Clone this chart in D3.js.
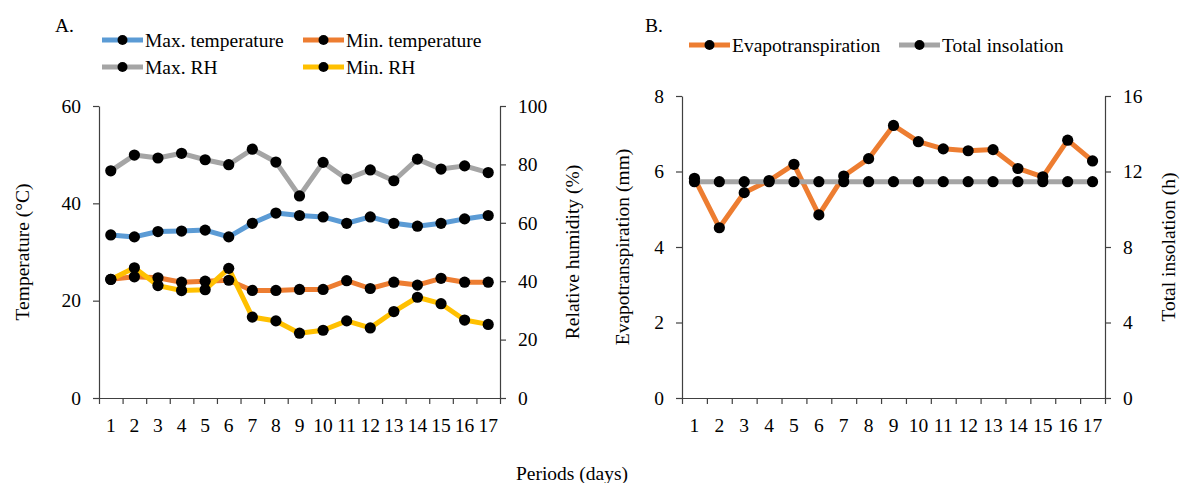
<!DOCTYPE html>
<html><head><meta charset="utf-8">
<script src="https://cdn.jsdelivr.net/npm/d3@7/dist/d3.min.js"></script>
<style>
body{margin:0;background:#fff;}
</style></head>
<body>
<svg id="chart" width="1181" height="483"></svg>
<script>
const periods = d3.range(1, 18).map(String);
const maxTemp = [33.5,33.1,34.2,34.3,34.5,33.1,35.9,38.0,37.5,37.2,35.9,37.2,35.9,35.3,35.9,36.8,37.5];
const minTemp = [24.4,24.9,24.7,23.8,24.0,24.2,22.1,22.1,22.3,22.3,24.1,22.5,23.8,23.2,24.6,23.8,23.8];
const maxRH = [77.8,83.2,82.2,83.8,81.6,79.9,85.2,80.8,69.2,80.7,75.0,78.1,74.4,81.8,78.4,79.5,77.2];
const minRH = [40.6,44.6,38.5,36.8,37.1,44.4,27.7,26.4,22.2,23.2,26.4,24.0,29.6,34.5,32.3,26.7,25.2];
const evapo = [5.82,4.51,5.44,5.76,6.19,4.85,5.88,6.34,7.22,6.79,6.60,6.55,6.58,6.08,5.86,6.83,6.28];
const insolation = [11.46,11.46,11.46,11.46,11.46,11.46,11.46,11.46,11.46,11.46,11.46,11.46,11.46,11.46,11.46,11.46,11.46];
const tempTicks = [0,20,40,60];
const rhTicks = [0,20,40,60,80,100];
const etTicks = [0,2,4,6,8];
const insTicks = [0,4,8,12,16];

const C = {blue:"#5B9BD5", orange:"#ED7D31", gray:"#A5A5A5", yellow:"#FFC000", axis:"#404040"};
const FONT = "'Liberation Serif', 'Times New Roman', 'DejaVu Serif', serif";
const FS = "19.5px";
const svg = d3.select("#chart");
function styleText(sel){ return sel.attr("font-family", null).style("font-family", FONT).style("font-size", FS).style("fill", "#000"); }

function panel(cfg){
  const g = svg.append("g");
  const xb = d3.scaleBand().domain(periods).range([cfg.x0, cfg.x1]).padding(0);
  const xl = d3.scaleLinear().domain([0, periods.length]).range([cfg.x0, cfg.x1]);
  const yL = d3.scaleLinear().domain(cfg.lDomain).range([cfg.yb, cfg.yt]);
  const yR = d3.scaleLinear().domain(cfg.rDomain).range([cfg.yb, cfg.yt]);

  const ax = g.append("g").attr("transform", `translate(0,${cfg.yb})`)
    .call(d3.axisBottom(xl).tickValues(d3.range(periods.length+1)).tickFormat("").tickSize(6).tickSizeOuter(0));
  const axl = g.append("g").attr("transform", `translate(0,${cfg.yb})`)
    .call(d3.axisBottom(xb).tickSize(0).tickPadding(20));
  axl.select(".domain").remove();
  const al = g.append("g").attr("transform", `translate(${cfg.x0},0)`)
    .call(d3.axisLeft(yL).tickValues(cfg.lTicks).tickSize(6).tickSizeOuter(0).tickPadding(12));
  const ar = g.append("g").attr("transform", `translate(${cfg.x1},0)`)
    .call(d3.axisRight(yR).tickValues(cfg.rTicks).tickSize(6).tickSizeOuter(0).tickPadding(12));
  [ax, axl, al, ar].forEach(a => {
    a.attr("font-family", null);
    a.selectAll("path,line").attr("stroke", C.axis).attr("stroke-width", 1.2);
    styleText(a.selectAll("text"));
  });

  styleText(g.append("text").attr("transform", `translate(${cfg.lTitleX},${(cfg.yt+cfg.yb)/2}) rotate(-90)`)
    .attr("text-anchor","middle").attr("dominant-baseline","central")).text(cfg.lTitle);
  styleText(g.append("text").attr("transform", `translate(${cfg.rTitleX},${(cfg.yt+cfg.yb)/2}) rotate(-90)`)
    .attr("text-anchor","middle").attr("dominant-baseline","central")).text(cfg.rTitle);

  const cx = d => xb(d) + xb.bandwidth()/2;
  cfg.series.forEach(s => {
    const y = s.axis === "L" ? yL : yR;
    const line = d3.line().x((v,i) => cx(periods[i])).y(v => y(v));
    g.append("path").datum(s.values).attr("d", line).attr("fill","none")
      .attr("stroke", s.color).attr("stroke-width", 5).attr("stroke-linejoin","round");
    s._y = y;
  });
  cfg.series.forEach(s => {
    g.append("g").selectAll("circle").data(s.values).join("circle")
      .attr("cx", (v,i) => cx(periods[i])).attr("cy", v => s._y(v)).attr("r", 5.6).attr("fill", "#000");
  });

  styleText(g.append("text").attr("x", cfg.letterX).attr("y", 32)).text(cfg.letter);

  cfg.legend.forEach(l => {
    const lg = g.append("g");
    lg.append("line").attr("x1", l.x).attr("x2", l.x+41).attr("y1", l.y).attr("y2", l.y)
      .attr("stroke", l.color).attr("stroke-width", 5);
    lg.append("circle").attr("cx", l.x+20.5).attr("cy", l.y).attr("r", 5).attr("fill", "#000");
    styleText(lg.append("text").attr("x", l.x+43).attr("y", l.y).attr("dominant-baseline","central")).text(l.label);
  });
}

panel({
  x0: 99, x1: 500, yt: 106, yb: 398,
  lDomain: [0,60], rDomain: [0,100], lTicks: tempTicks, rTicks: rhTicks,
  lTitle: "Temperature (°C)", rTitle: "Relative humidity (%)", lTitleX: 22, rTitleX: 572,
  letter: "A.", letterX: 55,
  series: [
    {values: maxTemp, color: C.blue, axis: "L"},
    {values: minTemp, color: C.orange, axis: "L"},
    {values: maxRH, color: C.gray, axis: "R"},
    {values: minRH, color: C.yellow, axis: "R"}
  ],
  legend: [
    {x: 102, y: 40, color: C.blue, label: "Max. temperature"},
    {x: 303, y: 40, color: C.orange, label: "Min. temperature"},
    {x: 102, y: 67, color: C.gray, label: "Max. RH"},
    {x: 303, y: 67, color: C.yellow, label: "Min. RH"}
  ]
});

panel({
  x0: 682, x1: 1105, yt: 96, yb: 398,
  lDomain: [0,8], rDomain: [0,16], lTicks: etTicks, rTicks: insTicks,
  lTitle: "Evapotranspiration (mm)", rTitle: "Total insolation (h)", lTitleX: 622, rTitleX: 1168,
  letter: "B.", letterX: 645,
  series: [
    {values: evapo, color: C.orange, axis: "L"},
    {values: insolation, color: C.gray, axis: "R"}
  ],
  legend: [
    {x: 689, y: 45, color: C.orange, label: "Evapotranspiration"},
    {x: 899, y: 45, color: C.gray, label: "Total insolation"}
  ]
});

styleText(svg.append("text").attr("x", 572).attr("y", 480).attr("text-anchor","middle")).text("Periods (days)");
</script>
</body></html>
